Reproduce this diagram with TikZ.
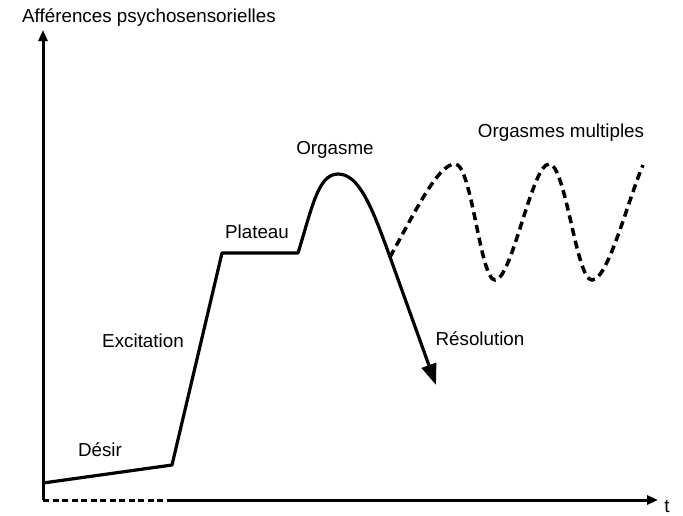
\documentclass[tikz,border=0pt]{standalone}
\usepackage{fontspec}
\setmainfont{Liberation Sans}
\usetikzlibrary{arrows.meta}
\begin{document}
\begin{tikzpicture}[x=1pt,y=-1pt,
  lbl/.style={font=\fontsize{18.8}{22}\selectfont, inner sep=0pt},
  axis/.style={line width=3pt},
  curve/.style={line width=3.2pt, line join=round},
  dashcurve/.style={line width=3.5pt, dash pattern=on 8pt off 5pt},
  axisdash/.style={line width=3pt, dash pattern=on 6pt off 3.5pt}]
\useasboundingbox (0,0) rectangle (683,515);
\fill[white] (0,0) rectangle (683,515);
% axes
\coordinate (O) at (43,500);
\coordinate (Ytop) at (43,30);
\coordinate (Xd) at (172,500);
\coordinate (Xend) at (658,500);
\draw[axis,-{Triangle[length=11pt,width=9pt]}] (O) -- (Ytop);
\draw[axisdash] (O) -- (Xd);
\draw[axis,-{Triangle[length=11pt,width=9pt]}] (Xd) -- (Xend);
\node[lbl,anchor=west] (ytitle) at (22,18) {Afférences psychosensorielles};
\node[lbl] (tlbl) at (667,506) {t};
% main curve
\coordinate (A) at (43,483);
\coordinate (B) at (172,465);
\coordinate (C) at (222,253);
\coordinate (D) at (298,253);
\coordinate (P) at (338,174);
\coordinate (Br) at (390,257);
\coordinate (E) at (436,385);
\draw[curve] (A) -- (B) -- (C) -- (D) .. controls (312,208) and (318,174) .. (P)
  .. controls (359,174) and (372,207) .. (Br);
\draw[curve,-{Triangle[length=21pt,width=15pt]}] (Br) -- (E);
% multiple orgasms
\coordinate (M1) at (455,164);
\coordinate (T1) at (495,280);
\coordinate (M2) at (549,164);
\coordinate (T2) at (592,280);
\coordinate (M3) at (643,165);
\draw[dashcurve] (Br) .. controls (415,212) and (438,164) .. (M1)
  .. controls (472,164) and (480,280) .. (T1)
  .. controls (512,280) and (532,164) .. (M2)
  .. controls (566,164) and (576,280) .. (T2)
  .. controls (608,280) and (628,200) .. (M3);
% labels
\node[lbl] (desir) at (100,450) {Désir};
\node[lbl] (excit) at (143,341) {Excitation};
\node[lbl] (plat) at (257,232) {Plateau};
\node[lbl] (orga) at (335,150) {Orgasme};
\node[lbl] (multi) at (561,133) {Orgasmes multiples};
\node[lbl] (reso) at (480,339) {Résolution};
\end{tikzpicture}
\end{document}
